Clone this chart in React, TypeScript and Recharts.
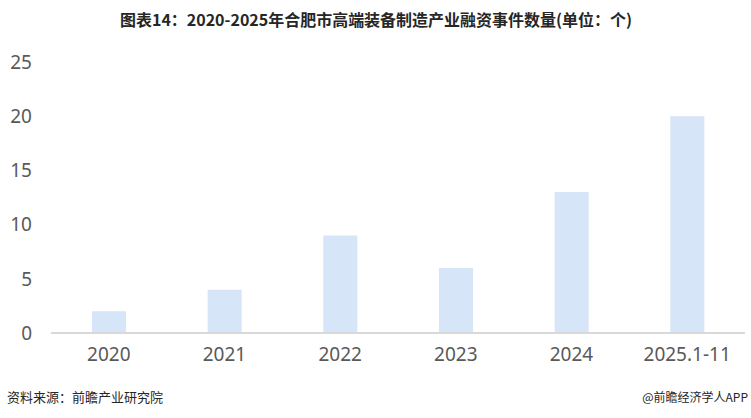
import React from "react";
import { BarChart, Bar, XAxis, YAxis } from "recharts";

const categories = ["2020", "2021", "2022", "2023", "2024", "2025.1-11"];
const counts = [2, 4, 9, 6, 13, 20];
const yTicks = [0, 5, 10, 15, 20, 25];

const data = categories.map((c, i) => ({ name: c, value: counts[i] }));

const TITLE = "图表14：2020-2025年合肥市高端装备制造产业融资事件数量(单位：个)";
const SOURCE = "资料来源：前瞻产业研究院";
const BRAND = "@前瞻经济学人APP";

export default function App() {
  return (
    <div style={{ position: "absolute", left: 0, top: 0, width: 751, height: 418, background: "#fff" }}>
      <BarChart
        width={751}
        height={418}
        data={data}
        margin={{ top: 62, right: 6, bottom: 55, left: 0 }}
      >
        <text
          x={376}
          y={26}
          textAnchor="middle"
          fontFamily="'Noto Sans CJK SC', sans-serif"
          fontWeight="bold"
          fontSize={16}
          fill="#262626"
          textLength={512}
          lengthAdjust="spacingAndGlyphs"
        >
          {TITLE}
        </text>
        <XAxis
          dataKey="name"
          axisLine={{ stroke: "#d9d9d9", strokeWidth: 2 }}
          tickLine={false}
          tickMargin={9}
          height={30}
          tick={{ fill: "#595959", fontSize: 19, fontFamily: "'Noto Sans', sans-serif" }}
          interval={0}
        />
        <YAxis
          domain={[0, 25]}
          ticks={yTicks}
          axisLine={false}
          tickLine={false}
          tickMargin={13}
          width={51}
          tick={{ fill: "#595959", fontSize: 19, fontFamily: "'Noto Sans', sans-serif" }}
        />
        <Bar dataKey="value" fill="#d6e5f8" barSize={34} isAnimationActive={false} />
        <text
          x={7}
          y={402}
          fontFamily="'Noto Sans CJK SC', sans-serif"
          fontSize={13}
          fill="#262626"
        >
          {SOURCE}
        </text>
        <text
          x={748}
          y={402}
          textAnchor="end"
          fontFamily="'Noto Sans CJK SC', sans-serif"
          fontSize={12}
          fill="#262626"
        >
          {BRAND}
        </text>
      </BarChart>
    </div>
  );
}
